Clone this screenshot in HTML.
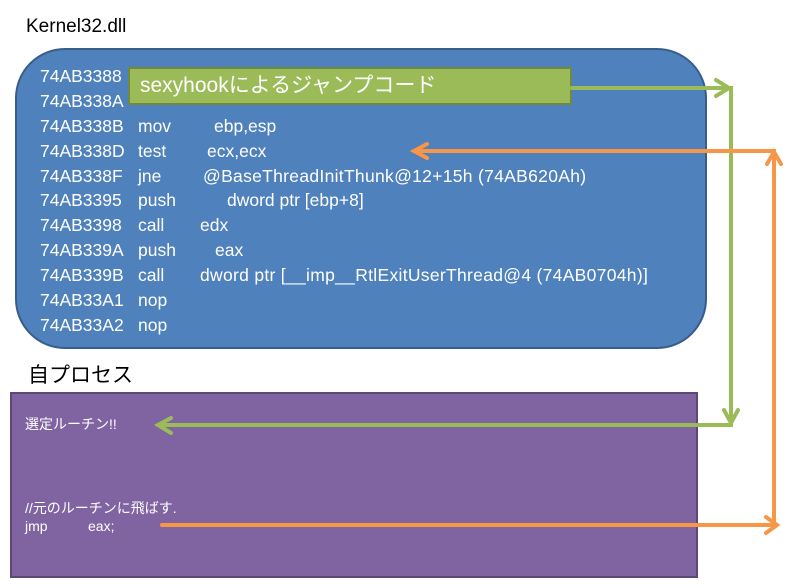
<!DOCTYPE html>
<html><head><meta charset="utf-8"><style>
body{margin:0;width:793px;height:588px;background:#fff;position:relative;overflow:hidden;font-family:"Liberation Sans","Noto Sans CJK JP",sans-serif}
.t{position:absolute;white-space:nowrap}
.blue{position:absolute;left:15px;top:48px;width:692px;height:301px;background:#4f81bd;border:2px solid #385d8a;border-radius:50px;box-sizing:border-box}
.purple{position:absolute;left:10px;top:392px;width:688px;height:186px;background:#8064a2;border:2px solid #5c4776;box-sizing:border-box}
.green{position:absolute;left:128px;top:67px;width:444px;height:38px;background:#9bbb59;border:2px solid #71893f;box-sizing:border-box;color:#fff;font-size:21px;line-height:34px;padding-left:10px}
.c{color:#fff;font-size:17.5px}
</style></head><body>
<div class="t" style="left:26px;top:16px;font-size:19px">Kernel32.dll</div>
<div class="blue"></div>
<div class="t c" style="left:40px;top:66px">74AB3388</div>
<div class="t c" style="left:40px;top:91px">74AB338A</div>
<div class="t c" style="left:40px;top:116px">74AB338B</div><div class="t c" style="left:138px;top:116px">mov</div><div class="t c" style="left:214px;top:116px">ebp,esp</div>
<div class="t c" style="left:40px;top:141px">74AB338D</div><div class="t c" style="left:138px;top:141px">test</div><div class="t c" style="left:207px;top:141px">ecx,ecx</div>
<div class="t c" style="left:40px;top:166px">74AB338F</div><div class="t c" style="left:138px;top:166px">jne</div><div class="t c" style="left:203px;top:166px;letter-spacing:0.3px">@BaseThreadInitThunk@12+15h (74AB620Ah)</div>
<div class="t c" style="left:40px;top:190px">74AB3395</div><div class="t c" style="left:138px;top:190px">push</div><div class="t c" style="left:227px;top:190px">dword ptr [ebp+8]</div>
<div class="t c" style="left:40px;top:215px">74AB3398</div><div class="t c" style="left:138px;top:215px">call</div><div class="t c" style="left:200px;top:215px">edx</div>
<div class="t c" style="left:40px;top:240px">74AB339A</div><div class="t c" style="left:138px;top:240px">push</div><div class="t c" style="left:215px;top:240px">eax</div>
<div class="t c" style="left:40px;top:265px">74AB339B</div><div class="t c" style="left:138px;top:265px">call</div><div class="t c" style="left:200px;top:265px;letter-spacing:0.3px">dword ptr [__imp__RtlExitUserThread@4 (74AB0704h)]</div>
<div class="t c" style="left:40px;top:290px">74AB33A1</div><div class="t c" style="left:138px;top:290px">nop</div>
<div class="t c" style="left:40px;top:315px">74AB33A2</div><div class="t c" style="left:138px;top:315px">nop</div>
<div class="green">sexyhookによるジャンプコード</div>
<div class="t" style="left:28px;top:359px;font-size:21px">自プロセス</div>
<div class="purple"></div>
<div class="t" style="left:25px;top:414px;font-size:14px;color:#fff">選定ルーチン!!</div>
<div class="t" style="left:25px;top:498px;font-size:14px;color:#fff">//元のルーチンに飛ばす.</div>
<div class="t" style="left:25px;top:518px;font-size:14px;color:#fff">jmp</div>
<div class="t" style="left:88px;top:518px;font-size:14px;color:#fff">eax;</div>
<svg width="793" height="588" style="position:absolute;left:0;top:0">
<g stroke="#9bbb59" stroke-width="4" fill="none" stroke-linecap="round">
<polyline points="572,88 731,88 731,425 158,425"/>
<polyline points="716,80 729,88 716,96"/>
<polyline points="724,410 731,423 738,410"/>
<polyline points="171,418 158,425 171,433"/>
</g>
<g stroke="#f79646" stroke-width="4" fill="none" stroke-linecap="round">
<polyline points="162,525 776,525"/>
<polyline points="774,525 774,151 414,151"/>
<polyline points="766,517 777,525 766,533"/>
<polyline points="767,164 774,152 781,164"/>
<polyline points="427,144 414,151 427,158"/>
</g>
</svg>
</body></html>
